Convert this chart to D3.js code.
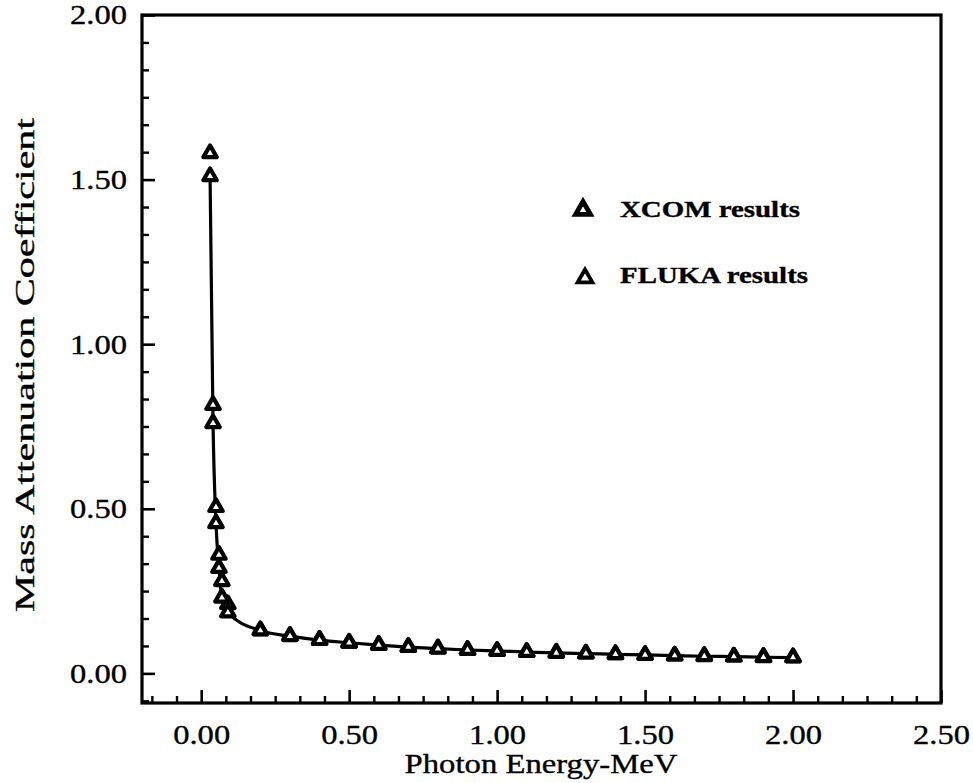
<!DOCTYPE html>
<html>
<head>
<meta charset="utf-8">
<script src="https://cdn.jsdelivr.net/npm/d3@7"></script>
<style>
  body { margin: 0; background: #fff; }
  svg { display: block; }
  text { font-family: "Liberation Serif", "DejaVu Serif", serif; fill: #000; stroke: #000; stroke-width: 0.35px; }
</style>
</head>
<body>
<svg width="973" height="783"></svg>
<script>
// photon energies (MeV)
const energy = [0.03, 0.04, 0.05, 0.06, 0.07, 0.09,
  0.2, 0.3, 0.4, 0.5, 0.6, 0.7, 0.8, 0.9, 1.0,
  1.1, 1.2, 1.3, 1.4, 1.5, 1.6, 1.7, 1.8, 1.9, 2.0];
// mass attenuation coefficient, XCOM (drawn with the line)
const xcom = [1.51, 0.76, 0.456, 0.32, 0.23, 0.185,
  0.130, 0.113, 0.101, 0.093, 0.086, 0.080, 0.075, 0.071, 0.068,
  0.065, 0.062, 0.060, 0.058, 0.056, 0.054, 0.052, 0.051, 0.049, 0.048];
// FLUKA results
const fluka = [1.58, 0.815, 0.505, 0.36, 0.28, 0.21,
  0.131, 0.114, 0.102, 0.093, 0.087, 0.080, 0.076, 0.071, 0.068,
  0.065, 0.063, 0.060, 0.058, 0.056, 0.054, 0.053, 0.051, 0.050, 0.049];

const xTicks = [0, 0.5, 1.0, 1.5, 2.0, 2.5];
const yTicks = [0, 0.5, 1.0, 1.5, 2.0];
const legendLabels = ['XCOM results', 'FLUKA results'];

const svg = d3.select('svg');

const x = d3.scaleLinear().domain([-0.2, 2.5]).range([142, 941]);
const y = d3.scaleLinear().domain([-0.09, 2.0]).range([703, 15]);

const isMajor = (v) => Math.abs(v * 2 - Math.round(v * 2)) < 1e-6;
const xMinor = d3.range(-2, 31).map((i) => i / 12).filter((v) => !isMajor(v));
const yMinor = d3.range(-1, 25).map((i) => i / 12).filter((v) => !isMajor(v));

// minor ticks
svg.append('g')
    .attr('transform', `translate(0,${y.range()[0]})`)
    .call(d3.axisBottom(x).tickValues(xMinor).tickSize(-7).tickFormat(''))
    .call((g) => g.select('.domain').remove())
    .selectAll('line').attr('stroke-width', 2.4);
svg.append('g')
    .attr('transform', `translate(${x.range()[0]},0)`)
    .call(d3.axisLeft(y).tickValues(yMinor).tickSize(-7).tickFormat(''))
    .call((g) => g.select('.domain').remove())
    .selectAll('line').attr('stroke-width', 2.4);

// major ticks + labels
const xAxis = svg.append('g')
    .attr('transform', `translate(0,${y.range()[0]})`)
    .call(d3.axisBottom(x).tickValues(xTicks).tickSize(-13)
        .tickPadding(21).tickFormat(d3.format('.2f')));
xAxis.select('.domain').remove();
xAxis.selectAll('line').attr('stroke-width', 2.6);
xAxis.selectAll('text')
    .attr('font-size', 28)
    .attr('font-family', '"Liberation Serif", serif')
    .attr('textLength', 57).attr('lengthAdjust', 'spacingAndGlyphs');

const yAxis = svg.append('g')
    .attr('transform', `translate(${x.range()[0]},0)`)
    .call(d3.axisLeft(y).tickValues(yTicks).tickSize(-13)
        .tickPadding(15).tickFormat(d3.format('.2f')));
yAxis.select('.domain').remove();
yAxis.selectAll('line').attr('stroke-width', 2.6);
yAxis.selectAll('text')
    .attr('font-size', 28)
    .attr('font-family', '"Liberation Serif", serif')
    .attr('textLength', 57).attr('lengthAdjust', 'spacingAndGlyphs');

// frame
svg.append('rect')
    .attr('x', x.range()[0]).attr('y', y.range()[1])
    .attr('width', x.range()[1] - x.range()[0])
    .attr('height', y.range()[0] - y.range()[1])
    .attr('fill', 'none').attr('stroke', '#000').attr('stroke-width', 3.2);

// curve through XCOM
const pts = energy.map((e, i) => [e, xcom[i]]);
svg.append('path')
    .datum(pts)
    .attr('fill', 'none').attr('stroke', '#000').attr('stroke-width', 3.2)
    .attr('d', d3.line().x((d) => x(d[0])).y((d) => y(d[1]))
        .curve(d3.curveMonotoneX));

const tri = d3.symbol().type(d3.symbolTriangle).size(78);

function drawMarkers(vals, cls) {
  svg.append('g').attr('class', cls)
      .selectAll('path')
      .data(energy.map((e, i) => [e, vals[i]]))
      .enter()
      .append('path')
      .attr('d', tri)
      .attr('transform', (d) => `translate(${x(d[0])},${y(d[1])})`)
      .attr('fill', '#fff').attr('stroke', '#000').attr('stroke-width', 4.2)
      .attr('stroke-linejoin', 'round');
}
drawMarkers(fluka, 'fluka');
drawMarkers(xcom, 'xcom');

// legend
const legend = svg.append('g');
legend.selectAll('path')
    .data(legendLabels)
    .enter()
    .append('path')
    .attr('d', d3.symbol().type(d3.symbolTriangle).size(95))
    .attr('transform', (d, i) => `translate(${583 + i * 2},${210 + i * 68})`)
    .attr('fill', '#fff').attr('stroke', '#000')
    .attr('stroke-width', (d, i) => i === 0 ? 4.8 : 3.8);
legend.selectAll('text')
    .data(legendLabels)
    .enter()
    .append('text')
    .attr('x', 620)
    .attr('y', (d, i) => 217 + i * 66)
    .attr('font-size', 23).attr('font-weight', 'bold')
    .attr('textLength', (d, i) => i === 0 ? 180 : 188)
    .attr('lengthAdjust', 'spacingAndGlyphs')
    .text((d) => d);

// axis titles
svg.append('text')
    .attr('x', 541).attr('y', 773)
    .attr('text-anchor', 'middle')
    .attr('font-size', 27)
    .attr('textLength', 273).attr('lengthAdjust', 'spacingAndGlyphs')
    .text('Photon Energy-MeV');
svg.append('text')
    .attr('transform', 'translate(34,365) rotate(-90)')
    .attr('text-anchor', 'middle')
    .attr('font-size', 27)
    .attr('textLength', 494).attr('lengthAdjust', 'spacingAndGlyphs')
    .text('Mass Attenuation Coefficient');
</script>
</body>
</html>
